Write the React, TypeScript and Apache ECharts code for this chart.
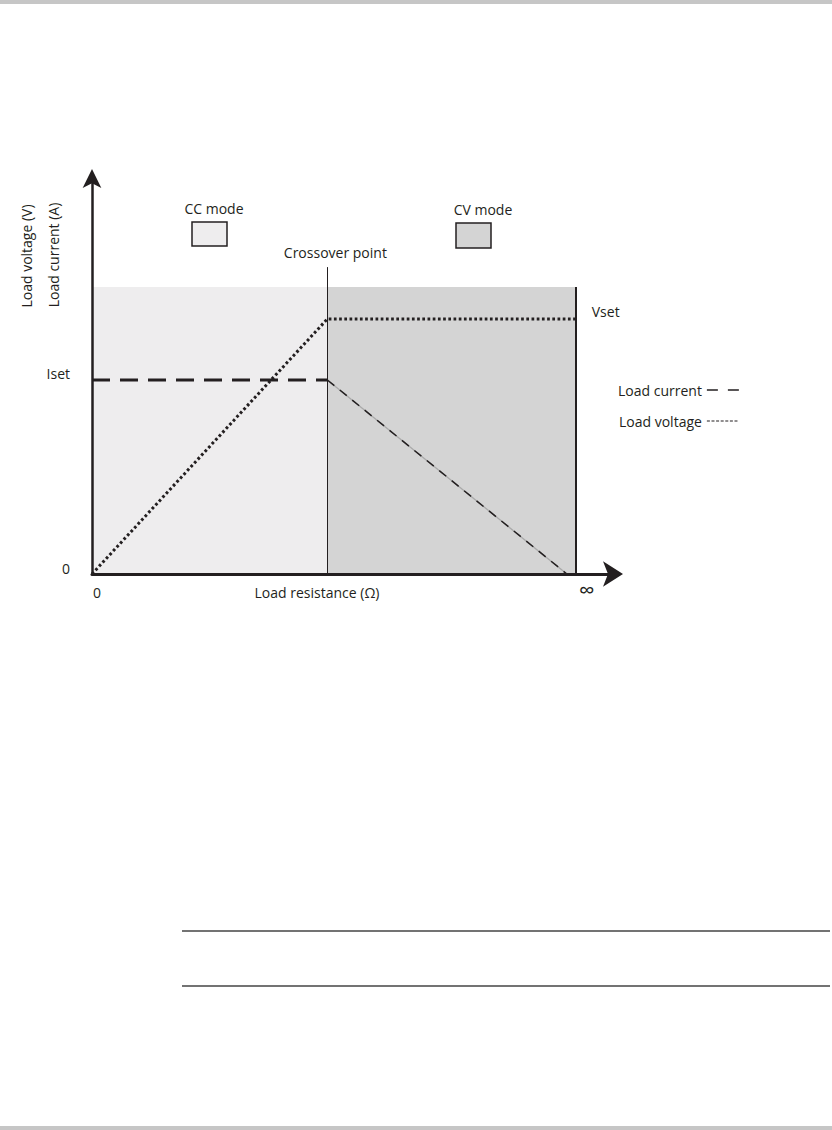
import React, { useEffect, useRef } from "react";
import * as echarts from "echarts";

// ---- data (arbitrary units: resistance 0..100, level 0..100) ----
const xRange = [0, 100];
const yRange = [0, 100];
const crossoverX = 45;
const limitX = 92.5;
const regionTop = 72.5;
const crossoverLineTop = 77.5;
const vset = 64.4;
const iset = 49;

const voltageX = [0, crossoverX, limitX];
const voltageY = [0, vset, vset];
const currentCCX = [0, crossoverX];
const currentCCY = [iset, iset];
const currentCVX = [crossoverX, 90.8];
const currentCVY = [iset, 0];

const yTickValues = [0, iset];
const yTickLabels = ["0", "Iset"];
const xTickValues = [0, 94.6];
const xTickLabels = ["0", "∞"];
const modeNames = ["CC mode", "CV mode"];
const seriesNames = ["Load current", "Load voltage"];
const yAxisNames = ["Load voltage (V)", "Load current (A)"];
const xAxisName = "Load resistance (Ω)";
const crossoverLabel = "Crossover point";
const vsetLabel = "Vset";

const FONT = "'Open Sans', 'Noto Sans', sans-serif";
const INK = "#231f20";
const CC_FILL = "#eeedee";
const CV_FILL = "#d4d4d4";
const FS = 14;

const zip = (xs: number[], ys: number[]) => xs.map((x, i) => [x, ys[i]]);

export default function App() {
  const ref = useRef<HTMLDivElement>(null);

  useEffect(() => {
    if (!ref.current) return;
    const chart = echarts.init(ref.current, undefined, { renderer: "svg" });

    const textStyle = { fontFamily: FONT, fontSize: FS, color: INK };
    const font = `${FS}px ${FONT}`;

    const option: any = {
      animation: false,
      backgroundColor: "#ffffff",
      textStyle: { fontFamily: FONT },
      grid: { left: 92, right: 217, top: 178, bottom: 556, containLabel: false },
      xAxis: {
        type: "value",
        min: xRange[0],
        max: xRange[1],
        z: 10,
        axisLine: {
          show: true,
          lineStyle: { color: INK, width: 3 },
          symbol: ["none", "arrow"],
          symbolSize: [19, 20],
          symbolOffset: [0, 8],
        },
        axisTick: { show: false },
        axisLabel: { show: false },
        splitLine: { show: false },
        name: xAxisName,
        nameLocation: "middle",
        nameGap: 11,
        nameTextStyle: { ...textStyle, padding: [0, 73, 0, 0] },
      },
      yAxis: {
        type: "value",
        min: yRange[0],
        max: yRange[1],
        z: 10,
        axisLine: {
          show: true,
          lineStyle: { color: INK, width: 2.5 },
          symbol: ["none", "arrow"],
          symbolSize: [14, 19],
          symbolOffset: [0, 9],
        },
        axisTick: { show: false },
        axisLabel: { show: false },
        splitLine: { show: false },
      },
      legend: {
        orient: "vertical",
        left: 618,
        top: 383,
        align: "right",
        padding: 0,
        itemGap: 17,
        itemWidth: 32,
        itemHeight: 14,
        selectedMode: false,
        textStyle,
        data: [
          {
            name: seriesNames[0],
            itemStyle: { opacity: 0 },
            lineStyle: { color: INK, width: 1.3, type: [11, 10], opacity: 1 },
          },
          {
            name: seriesNames[1],
            itemStyle: { opacity: 0 },
            lineStyle: { color: INK, width: 1.1, type: [3, 1.6], opacity: 1 },
          },
        ],
      },
      graphic: [
        { type: "rect", shape: { x: 0, y: 0, width: 832, height: 4 }, style: { fill: "#c6c6c6" } },
        { type: "rect", shape: { x: 0, y: 1126, width: 832, height: 4 }, style: { fill: "#c6c6c6" } },
        { type: "line", shape: { x1: 182, y1: 931, x2: 830, y2: 931 }, style: { stroke: "#444", lineWidth: 1.5 } },
        { type: "line", shape: { x1: 182, y1: 986, x2: 830, y2: 986 }, style: { stroke: "#444", lineWidth: 1.5 } },
        {
          type: "text", x: 26, y: 256, rotation: Math.PI / 2,
          style: { text: yAxisNames[0], font, fill: INK, textAlign: "center", textVerticalAlign: "middle" },
        },
        {
          type: "text", x: 53, y: 255, rotation: Math.PI / 2,
          style: { text: yAxisNames[1], font, fill: INK, textAlign: "center", textVerticalAlign: "middle" },
        },
        {
          type: "text", x: 214, y: 208,
          style: { text: modeNames[0], font, fill: INK, textAlign: "center", textVerticalAlign: "middle" },
        },
        { type: "rect", shape: { x: 192, y: 222, width: 35, height: 24 }, style: { fill: CC_FILL, stroke: INK, lineWidth: 1.5 } },
        {
          type: "text", x: 483, y: 209,
          style: { text: modeNames[1], font, fill: INK, textAlign: "center", textVerticalAlign: "middle" },
        },
        { type: "rect", shape: { x: 456, y: 223, width: 35, height: 25 }, style: { fill: CV_FILL, stroke: INK, lineWidth: 1.5 } },
      ],
      series: [
        {
          name: "regions",
          type: "line",
          data: [],
          silent: true,
          markArea: {
            silent: true,
            data: [
              [{ coord: [xRange[0], yRange[0]], itemStyle: { color: CC_FILL } }, { coord: [crossoverX, regionTop] }],
              [{ coord: [crossoverX, yRange[0]], itemStyle: { color: CV_FILL } }, { coord: [limitX, regionTop] }],
            ],
          },
          markLine: {
            silent: true,
            symbol: ["none", "none"],
            data: [
              [
                {
                  coord: [crossoverX, yRange[0]],
                  lineStyle: { color: INK, width: 1, type: "solid" },
                  label: {
                    show: true, position: "end", formatter: crossoverLabel,
                    distance: 8, offset: [8, 0], ...textStyle,
                  },
                },
                { coord: [crossoverX, crossoverLineTop] },
              ],
              [
                {
                  coord: [limitX, yRange[0]],
                  lineStyle: { color: INK, width: 2, type: "solid" },
                  label: { show: false },
                },
                { coord: [limitX, regionTop] },
              ],
            ],
          },
        },
        {
          name: seriesNames[1],
          type: "line",
          data: zip(voltageX, voltageY),
          symbol: "none",
          silent: true,
          lineStyle: { color: INK, width: 3, type: [2.7, 2.5], cap: "butt" },
          z: 4,
        },
        {
          name: seriesNames[0],
          type: "line",
          data: zip(currentCCX, currentCCY),
          symbol: "none",
          silent: true,
          lineStyle: { color: INK, width: 3, type: [18, 10], cap: "butt" },
          z: 4,
        },
        {
          name: seriesNames[0],
          type: "line",
          data: zip(currentCVX, currentCVY),
          symbol: "none",
          silent: true,
          lineStyle: { color: "#a9a9a9", width: 1.3, type: "solid" },
          z: 3,
        },
        {
          name: seriesNames[0],
          type: "line",
          data: zip(currentCVX, currentCVY),
          symbol: "none",
          silent: true,
          lineStyle: { color: INK, width: 1.5, type: [9, 7] },
          z: 4,
        },
        {
          name: "yTicks",
          type: "scatter",
          silent: true,
          symbolSize: 0,
          itemStyle: { opacity: 1 },
          data: yTickValues.map((v, i) => ({ value: [xRange[0], v], name: yTickLabels[i] })),
          label: { show: true, position: "left", distance: 22, offset: [0, -6], formatter: "{b}", ...textStyle },
        },
        {
          name: "xTicks",
          type: "scatter",
          silent: true,
          symbolSize: 0,
          itemStyle: { opacity: 1 },
          data: xTickValues.map((v, i) => ({
            value: [v, yRange[0]],
            name: xTickLabels[i],
            label: i === 0 ? { offset: [5, 0] } : { fontSize: 22, offset: [0, -7] },
          })),
          label: { show: true, position: "bottom", distance: 11, formatter: "{b}", ...textStyle },
        },
        {
          name: "vsetTick",
          type: "scatter",
          silent: true,
          symbolSize: 0,
          itemStyle: { opacity: 1 },
          data: [{ value: [limitX, vset], name: vsetLabel }],
          label: { show: true, position: "right", distance: 16, offset: [0, -7], formatter: "{b}", ...textStyle },
        },
      ],
    };

    chart.setOption(option);
    return () => chart.dispose();
  }, []);

  return (
    <div
      ref={ref}
      style={{ position: "absolute", left: 0, top: 0, width: 832, height: 1130, background: "#fff" }}
    />
  );
}
